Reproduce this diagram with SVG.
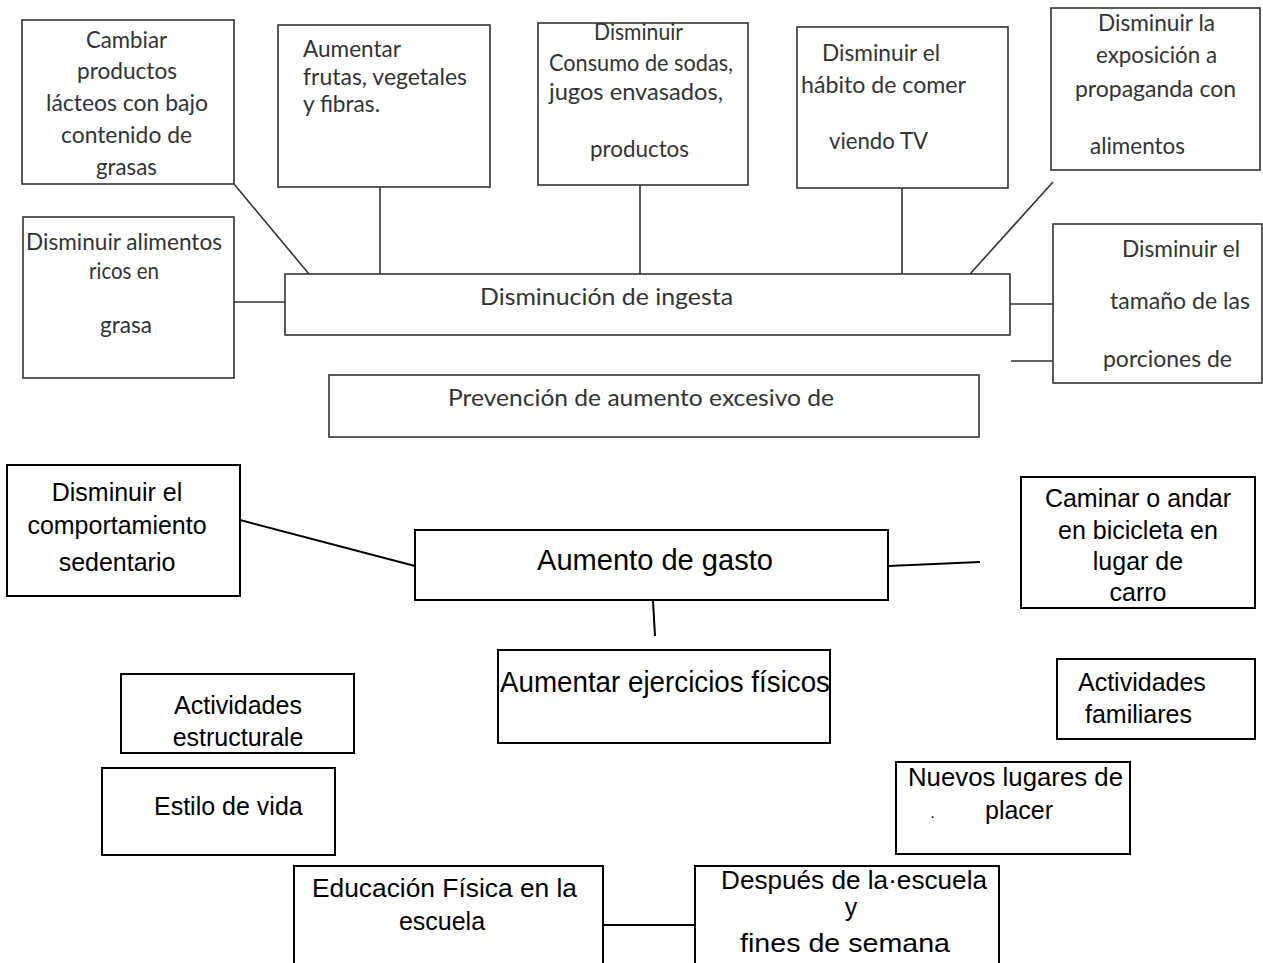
<svg xmlns="http://www.w3.org/2000/svg" width="1263" height="963" viewBox="0 0 1263 963">
<style>
.b1{fill:#fff;stroke:#333;stroke-width:1.6}
.b2{fill:#fff;stroke:#000;stroke-width:2}
.t1{font-family:Lato,"Open Sans",sans-serif;font-size:23px;fill:#333}
.t2{font-family:"Liberation Sans",Arial,sans-serif;font-size:25px;fill:#000}
.c{text-anchor:middle}
.l1{stroke:#333;stroke-width:1.6;fill:none}
.l2{stroke:#000;stroke-width:2;fill:none}
</style>
<rect width="1263" height="963" fill="#fff"/>
<g id="connectors">
<line class="l1" x1="234" y1="184" x2="309" y2="274"/>
<line class="l1" x1="380" y1="187" x2="380" y2="274"/>
<line class="l1" x1="640" y1="185" x2="640" y2="274"/>
<line class="l1" x1="902" y1="188" x2="902" y2="274"/>
<line class="l1" x1="1053" y1="182" x2="970" y2="274"/>
<line class="l1" x1="234" y1="302" x2="285" y2="302"/>
<line class="l1" x1="1010" y1="304" x2="1053" y2="304"/>
<line class="l1" x1="1011" y1="361" x2="1065" y2="361"/>
<line class="l2" x1="240" y1="520" x2="415" y2="566"/>
<line class="l2" x1="888" y1="566" x2="980" y2="562"/>
<line class="l2" x1="653" y1="601" x2="655" y2="636"/>
<line class="l2" x1="584" y1="925" x2="702" y2="925"/>
</g>
<g id="n-cambiar"><rect class="b1" x="22" y="20" width="212" height="164"/>
<text class="t1" x="86" y="48" textLength="81" lengthAdjust="spacingAndGlyphs">Cambiar</text>
<text class="t1" x="77" y="79" textLength="100" lengthAdjust="spacingAndGlyphs">productos</text>
<text class="t1" x="46" y="111" textLength="162" lengthAdjust="spacingAndGlyphs">lácteos con bajo</text>
<text class="t1" x="61" y="143" textLength="131" lengthAdjust="spacingAndGlyphs">contenido de</text>
<text class="t1" x="96" y="175" textLength="61" lengthAdjust="spacingAndGlyphs">grasas</text></g>
<g id="n-aumentar-frutas"><rect class="b1" x="278" y="25" width="212" height="162"/>
<text class="t1" x="303" y="57" textLength="98" lengthAdjust="spacingAndGlyphs">Aumentar</text>
<text class="t1" x="303" y="85" textLength="164" lengthAdjust="spacingAndGlyphs">frutas, vegetales</text>
<text class="t1" x="303" y="112" textLength="77" lengthAdjust="spacingAndGlyphs">y fibras.</text></g>
<g id="n-consumo"><rect class="b1" x="538" y="23" width="210" height="162"/>
<text class="t1" x="594" y="40" textLength="89" lengthAdjust="spacingAndGlyphs">Disminuir</text>
<text class="t1" x="549" y="71" textLength="184" lengthAdjust="spacingAndGlyphs">Consumo de sodas,</text>
<text class="t1" x="549" y="100" textLength="174" lengthAdjust="spacingAndGlyphs">jugos envasados,</text>
<text class="t1" x="590" y="157" textLength="99" lengthAdjust="spacingAndGlyphs">productos</text></g>
<g id="n-habito"><rect class="b1" x="797" y="27" width="211" height="161"/>
<text class="t1" x="822" y="61" textLength="118" lengthAdjust="spacingAndGlyphs">Disminuir el</text>
<text class="t1" x="801" y="93" textLength="165" lengthAdjust="spacingAndGlyphs">hábito de comer</text>
<text class="t1" x="829" y="149" textLength="99" lengthAdjust="spacingAndGlyphs">viendo TV</text></g>
<g id="n-exposicion"><rect class="b1" x="1051" y="8" width="209" height="162"/>
<text class="t1" x="1098" y="31" textLength="117" lengthAdjust="spacingAndGlyphs">Disminuir la</text>
<text class="t1" x="1096" y="63" textLength="121" lengthAdjust="spacingAndGlyphs">exposición a</text>
<text class="t1" x="1075" y="97" textLength="161" lengthAdjust="spacingAndGlyphs">propaganda con</text>
<text class="t1" x="1090" y="154" textLength="95" lengthAdjust="spacingAndGlyphs">alimentos</text></g>
<g id="n-ricos"><rect class="b1" x="23" y="217" width="211" height="161"/>
<text class="t1" x="26" y="250" textLength="196" lengthAdjust="spacingAndGlyphs">Disminuir alimentos</text>
<text class="t1" x="89" y="279" textLength="70" lengthAdjust="spacingAndGlyphs">ricos en</text>
<text class="t1" x="100" y="333" textLength="52" lengthAdjust="spacingAndGlyphs">grasa</text></g>
<g id="n-ingesta"><rect class="b1" x="285" y="274" width="725" height="61"/>
<text class="t1" x="480" y="305" style="font-size:24px" textLength="253" lengthAdjust="spacingAndGlyphs">Disminución de ingesta</text></g>
<g id="n-tamano"><rect class="b1" x="1053" y="224" width="209" height="159"/>
<text class="t1" x="1122" y="257" textLength="118" lengthAdjust="spacingAndGlyphs">Disminuir el</text>
<text class="t1" x="1110" y="309" textLength="140" lengthAdjust="spacingAndGlyphs">tamaño de las</text>
<text class="t1" x="1103" y="367" textLength="129" lengthAdjust="spacingAndGlyphs">porciones de</text></g>
<g id="n-prevencion"><rect class="b1" x="329" y="375" width="650" height="62"/>
<text class="t1" x="448" y="406" style="font-size:24px" textLength="386" lengthAdjust="spacingAndGlyphs">Prevención de aumento excesivo de</text></g>
<g id="n-sedentario"><rect class="b2" x="7" y="465" width="233" height="131"/>
<text class="t2 c" x="117" y="501">Disminuir el</text><text class="t2 c" x="117" y="534">comportamiento</text><text class="t2 c" x="117" y="571">sedentario</text></g>
<g id="n-gasto"><rect class="b2" x="415" y="530" width="473" height="70"/>
<text class="t2" x="537" y="570" style="font-size:29px" textLength="236" lengthAdjust="spacingAndGlyphs">Aumento de gasto</text></g>
<g id="n-caminar"><rect class="b2" x="1021" y="477" width="234" height="131"/>
<text class="t2 c" x="1138" y="507">Caminar o andar</text><text class="t2 c" x="1138" y="539">en bicicleta en</text><text class="t2 c" x="1138" y="570">lugar de</text><text class="t2 c" x="1138" y="601">carro</text></g>
<g id="n-ejercicios"><rect class="b2" x="498" y="650" width="332" height="93"/>
<text class="t2" x="500" y="692" style="font-size:29px" textLength="330" lengthAdjust="spacingAndGlyphs">Aumentar ejercicios físicos</text></g>
<g id="n-estructurales"><rect class="b2" x="121" y="674" width="233" height="79"/>
<text class="t2 c" x="238" y="714">Actividades</text><text class="t2 c" x="238" y="746">estructurale</text></g>
<g id="n-familiares"><rect class="b2" x="1057" y="659" width="198" height="80"/>
<text class="t2" x="1078" y="691">Actividades</text><text class="t2" x="1085" y="723">familiares</text></g>
<g id="n-estilo"><rect class="b2" x="102" y="768" width="233" height="87"/>
<text class="t2" x="154" y="815">Estilo de vida</text></g>
<g id="n-nuevos"><rect class="b2" x="896" y="762" width="234" height="92"/>
<text class="t2" x="908" y="786" textLength="215" lengthAdjust="spacingAndGlyphs">Nuevos lugares de</text><text class="t2" x="930" y="822" style="font-size:16px">·</text><text class="t2" x="985" y="819">placer</text></g>
<g id="n-educacion"><path class="b2" d="M294,966 V866 H603 V966"/>
<text class="t2" x="312" y="897" textLength="265" lengthAdjust="spacingAndGlyphs">Educación Física en la</text><text class="t2 c" x="442" y="930">escuela</text></g>
<g id="n-despues"><path class="b2" d="M695,966 V866 H999 V966"/>
<text class="t2" x="721" y="889" textLength="266" lengthAdjust="spacingAndGlyphs">Después de la·escuela</text><text class="t2 c" x="851" y="916">y</text><text class="t2" x="740" y="952" textLength="210" lengthAdjust="spacingAndGlyphs">fines de semana</text></g>
</svg>
